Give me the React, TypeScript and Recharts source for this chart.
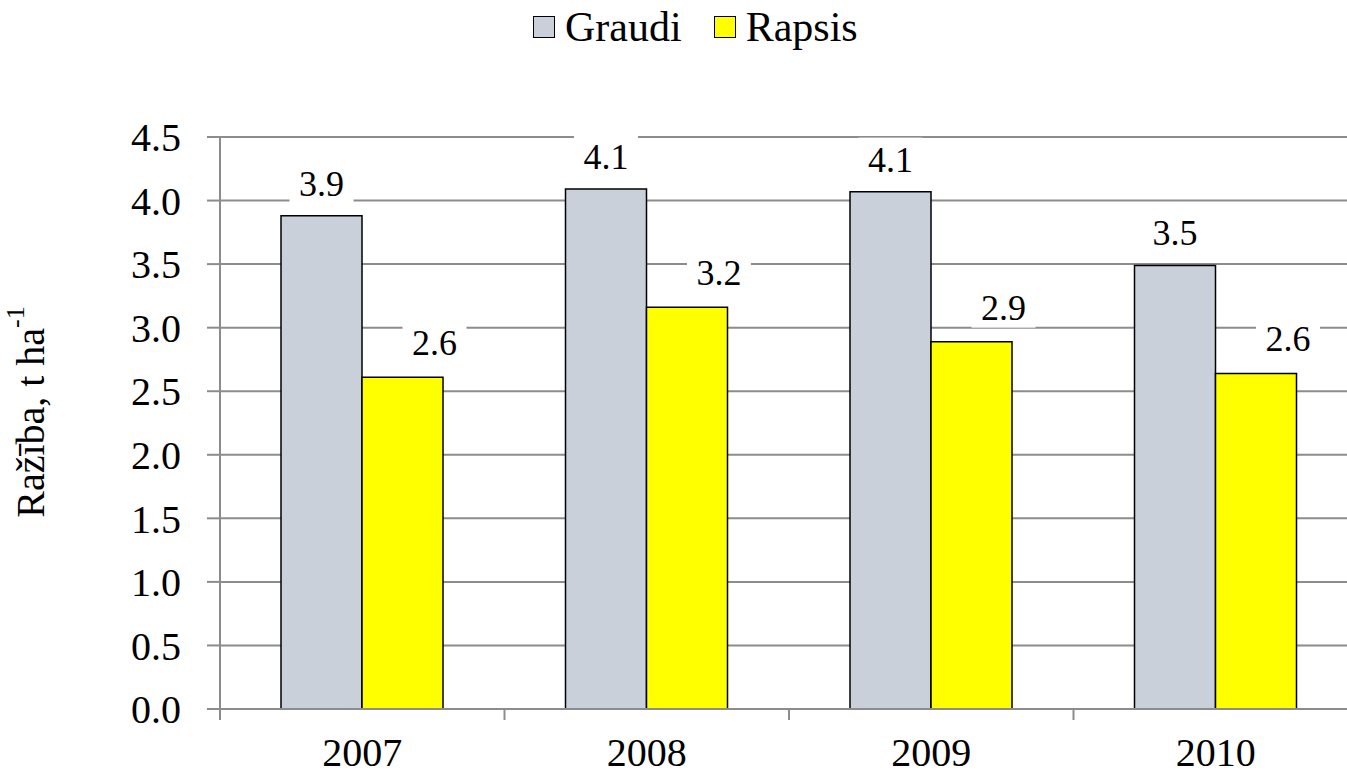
import React from 'react';
import { BarChart, Bar, XAxis, YAxis, CartesianGrid, Legend, LabelList, Label } from 'recharts';

// ---- data ----
const years = ['2007', '2008', '2009', '2010'];
const graudi = [3.88, 4.09, 4.07, 3.49];
const rapsis = [2.61, 3.16, 2.89, 2.64];
const yTicks = [0, 0.5, 1, 1.5, 2, 2.5, 3, 3.5, 4, 4.5];
const seriesNames = ['Graudi', 'Rapsis'];
const yTitle = 'Ražība, t ha';
const yTitleSup = '-1';

const data = years.map((y, i) => ({ year: y, Graudi: graudi[i], Rapsis: rapsis[i] }));

// ---- styles ----
const FONT = '"Liberation Serif", "Times New Roman", Times, serif';
const GRID = '#8c8c8c';
const COLORS = ['#C9D0DA', '#FFFF00'];
const W = 1347;
const H = 775;
const MARGIN = { top: 137, right: -11, bottom: 0, left: 0 };
const Y_AXIS_W = 220;
const BAND = (W - MARGIN.left - MARGIN.right - Y_AXIS_W) / years.length;

const makeLabel = (shiftX: number, gap: number) => (props: any) => {
  const { x, y, width, value } = props;
  const cx = Number(x) + Number(width) / 2 + shiftX;
  const base = Number(y) - gap;
  return (
    <g>
      <rect x={cx - 32} y={base - 34} width={64} height={42} fill="#fff" />
      <text x={cx} y={base} textAnchor="middle" style={{ fontFamily: FONT }} fontSize={36} fill="#000">
        {Number(value).toFixed(1)}
      </text>
    </g>
  );
};

const XTick = (props: any) => {
  const { x, y, payload, index, visibleTicksCount } = props;
  const half = payload && typeof payload.offset === 'number' && payload.offset > 0 ? payload.offset : BAND / 2;
  const isLast = index === visibleTicksCount - 1;
  return (
    <g>
      <line x1={x - half} x2={x - half} y1={y} y2={y + 11} stroke={GRID} strokeWidth={2} />
      {isLast && <line x1={x + half} x2={x + half} y1={y} y2={y + 11} stroke={GRID} strokeWidth={2} />}
      <text x={x} y={y + 57} textAnchor="middle" style={{ fontFamily: FONT }} fontSize={40} fill="#000">
        {payload.value}
      </text>
    </g>
  );
};

const YTitle = (props: any) => {
  const vb = props.viewBox || { x: 0, y: MARGIN.top, width: Y_AXIS_W, height: 572 };
  const cx = 30;
  const cy = vb.y + vb.height / 2 - 11;
  return (
    <text
      x={cx}
      y={cy}
      transform={`rotate(-90, ${cx}, ${cy})`}
      textAnchor="middle"
      dominantBaseline="central"
      style={{ fontFamily: FONT }}
      fontSize={40}
      fill="#000"
    >
      {yTitle}
      <tspan fontSize={26} dy={-15}>{yTitleSup}</tspan>
    </text>
  );
};

const LegendContent = () => (
  <div style={{ display: 'flex', alignItems: 'center', fontFamily: FONT, fontSize: 42, lineHeight: '42px', color: '#000' }}>
    {seriesNames.map((n, i) => (
      <div key={n} style={{ display: 'flex', alignItems: 'center', marginLeft: i === 0 ? 0 : 32 }}>
        <div style={{ width: 22, height: 22, boxSizing: 'border-box', border: '1.5px solid #000', background: COLORS[i], marginRight: 10 }} />
        <span>{n}</span>
      </div>
    ))}
  </div>
);

export default function App() {
  return (
    <div style={{ position: 'absolute', left: 0, top: 0, width: W, height: H, background: '#fff', overflow: 'hidden', fontFamily: FONT }}>
      <BarChart width={W} height={H} data={data} margin={MARGIN} barGap={0} style={{ fontFamily: FONT }}>
        <CartesianGrid vertical={false} stroke={GRID} strokeWidth={2} />
        <XAxis
          dataKey="year"
          interval={0}
          height={66}
          axisLine={{ stroke: GRID, strokeWidth: 2 }}
          tickLine={false}
          tickSize={0}
          tickMargin={0}
          tick={XTick}
        />
        <YAxis
          type="number"
          domain={[0, 4.5]}
          ticks={yTicks}
          interval={0}
          width={Y_AXIS_W}
          tickFormatter={(v: number) => v.toFixed(1)}
          axisLine={{ stroke: GRID, strokeWidth: 2 }}
          tickLine={{ stroke: GRID, strokeWidth: 2 }}
          tickSize={13}
          tickMargin={26}
          tick={{ fill: '#000', fontSize: 40, fontFamily: FONT, style: { fontFamily: FONT } }}
        >
          <Label content={YTitle} />
        </YAxis>
        <Legend
          verticalAlign="middle"
          align="center"
          layout="horizontal"
          wrapperStyle={{ top: 6, left: 533, width: 'auto' }}
          content={LegendContent}
        />
        <Bar dataKey="Graudi" fill={COLORS[0]} stroke="#000" strokeWidth={1.5} barSize={81} isAnimationActive={false}>
          <LabelList dataKey="Graudi" content={makeLabel(0, 20)} />
        </Bar>
        <Bar dataKey="Rapsis" fill={COLORS[1]} stroke="#000" strokeWidth={1.5} barSize={81} isAnimationActive={false}>
          <LabelList dataKey="Rapsis" content={makeLabel(32, 22)} />
        </Bar>
      </BarChart>
    </div>
  );
}
